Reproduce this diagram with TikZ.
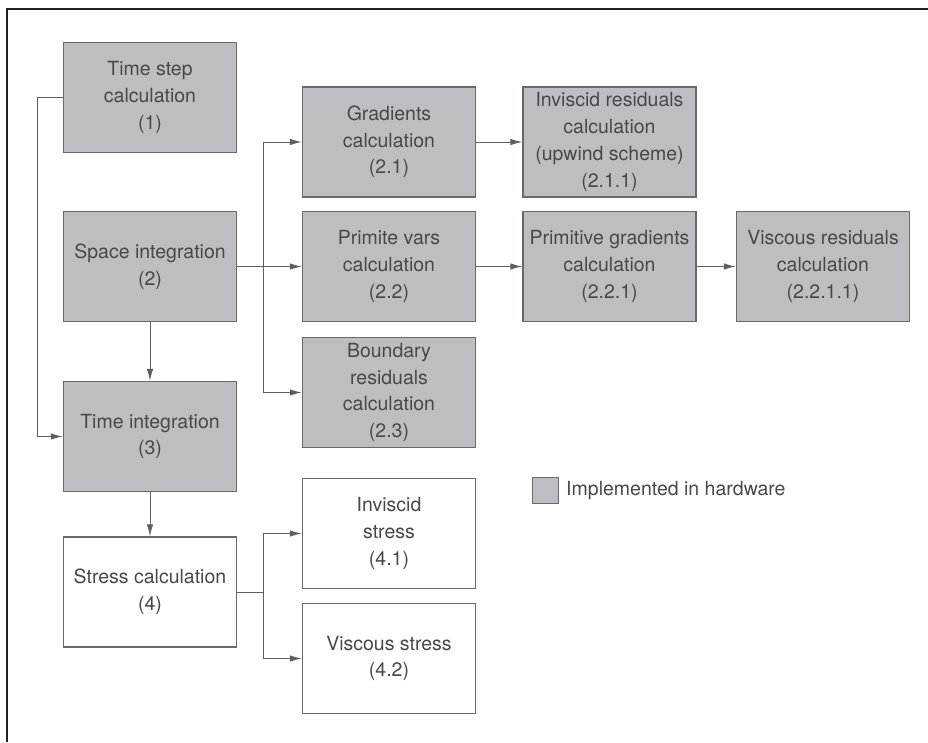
\documentclass[tikz,border=0pt]{standalone}
\usepackage{fontspec}
\setmainfont{TeX Gyre Heros}
\usetikzlibrary{arrows.meta}
\definecolor{hwfill}{RGB}{189,190,194}
\definecolor{boxline}{RGB}{105,105,108}
\definecolor{wireline}{RGB}{95,95,98}
\definecolor{textgray}{RGB}{72,72,75}
\definecolor{framecol}{RGB}{35,35,35}
\tikzset{
  task/.style={draw=boxline,line width=1.3pt,rectangle,minimum width=173pt,minimum height=110pt,inner sep=0pt,align=center,text=textgray,font=\fontsize{19.5}{26.7}\selectfont},
  hwtask/.style={task,fill=hwfill},
  swtask/.style={task,fill=white},
  wire/.style={draw=wireline,line width=1pt}
}

\begin{document}
\begin{tikzpicture}[x=1pt,y=-1pt,>={Latex[length=12pt,width=6.5pt]}]

  \useasboundingbox (0,0) rectangle (928,742);
  \draw[framecol,line width=2pt] (6.5,742) -- (6.5,8.5) -- (928,8.5);

  \node[hwtask] at (150,97.5) (n1) {Time step\\calculation\\(1)};
  \node[hwtask] at (150,266.5) (n2) {Space integration\\(2)};
  \node[hwtask] at (150,436.5) (n3) {Time integration\\(3)};
  \node[swtask] at (150,592) (n4) {Stress calculation\\(4)};

  \node[hwtask] at (389,142) (n2-1) {Gradients\\calculation\\(2.1)};
  \node[hwtask] at (389,266.5) (n2-2) {Primite vars\\calculation\\(2.2)};
  \node[hwtask] at (389,392.5) (n2-3) {Boundary\\residuals\\calculation\\(2.3)};

  \node[hwtask] at (609.5,142) (n2-1-1) {Inviscid residuals\\calculation\\(upwind scheme)\\(2.1.1)};
  \node[hwtask] at (609.5,266.5) (n2-2-1) {Primitive gradients\\calculation\\(2.2.1)};
  \node[hwtask] at (823,266.5) (n2-2-1-1) {Viscous residuals\\calculation\\(2.2.1.1)};

  \node[swtask] at (389,533.5) (n4-1) {Inviscid\\stress\\(4.1)};
  \node[swtask] at (389,658.5) (n4-2) {Viscous stress\\(4.2)};

  \draw[wire,->] (n1.west) -- ++(-25,0) |- (n3.west);
  \draw[wire,->] (n2.south) -- (n3.north);
  \draw[wire,->] (n3.south) -- (n4.north);

  \draw[wire,->] (n2.east) -- ++(26,0) |- (n2-1.west);
  \draw[wire,->] (n2.east) -- (n2-2.west);
  \draw[wire,->] (n2.east) -- ++(26,0) |- (n2-3.west);
  \draw[wire,->] (n2-1) -- (n2-1-1);
  \draw[wire,->] (n2-2) -- (n2-2-1);
  \draw[wire,->] (n2-2-1) -- (n2-2-1-1);

  \draw[wire,->] (n4.east) -- ++(26,0) |- (n4-1.west);
  \draw[wire,->] (n4.east) -- ++(26,0) |- (n4-2.west);

  \node[draw=boxline,fill=hwfill,line width=1.3pt,rectangle,minimum size=26pt,inner sep=0pt] at (545.5,490.3) (key) {};
  \node[anchor=west,inner sep=0pt,text=textgray,font=\fontsize{19.5}{26.7}\selectfont] at (566,490.3) (key-text) {Implemented in hardware};

\end{tikzpicture}
\end{document}
